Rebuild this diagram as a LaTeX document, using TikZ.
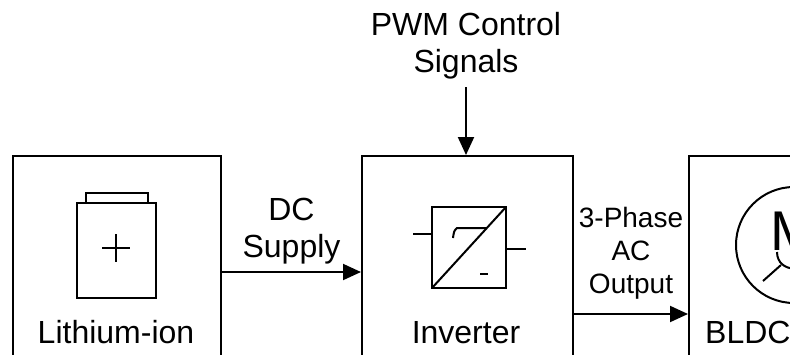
\documentclass[tikz,border=0pt]{standalone}
\usepackage{fontspec}
\setmainfont{Liberation Sans}
\usetikzlibrary{arrows.meta}

\tikzset{
  block/.style={draw, line width=2pt, anchor=north west, inner sep=0pt, minimum height=280pt},
  lbl/.style={font=\fontsize{32}{37}\selectfont, align=center, inner sep=0pt},
  small lbl/.style={font=\fontsize{28}{33}\selectfont, align=center, inner sep=0pt},
  flow/.style={line width=2pt, -{Triangle[length=18pt,width=16pt]}},
  icon/.style={line width=2pt},
}

\begin{document}
\begin{tikzpicture}[x=1pt,y=-1pt]
  \clip (0,0) rectangle (790,354);
  % blocks
  \node[block, minimum width=208pt] (bat) at (12,155) {};
  \node[block, minimum width=211pt] (inv) at (361,155) {};
  \node[block, minimum width=200pt] (mot) at (688,155) {};
  \node[lbl, anchor=base] (batlbl) at (116,343) {Lithium-ion};
  \node[lbl, anchor=base] (invlbl) at (466,343) {Inverter};
  \node[lbl, anchor=base west] (motlbl) at (705,343) {BLDC};

  % battery
  \draw[icon] (77,203) rectangle (156,298);
  \draw[icon] (86,203) -- (86,193) -- (148,193) -- (148,203);
  \draw[icon] (102,248) -- (130,248) (116,234) -- (116,262);

  % converter
  \draw[icon] (432,207) rectangle (506,288);
  \draw[icon] (432,288) -- (506,207);
  \draw[icon] (413,234) -- (432,234) (506,249) -- (526,249);
  \draw[icon] (453,238) .. controls (454,231) .. (457,228) -- (487,228);
  \draw[line width=2.5pt] (480,274) -- (488,274);

  % motor
  \draw[icon] (794,245) circle[radius=58pt];
  \node[font=\fontsize{56}{56}\selectfont, anchor=base, inner sep=0pt] (mletter) at (794,250) {M};
  \draw[icon] (777,252) .. controls (777,274) and (811,274) .. (811,252);
  \draw[icon] (781,265) -- (763,281) (807,265) -- (825,281);

  % signals
  \node[lbl, anchor=north] (pwm) at (466,12) {PWM Control\\Signals};
  \draw[flow, shorten <=8pt] (pwm.south) -- (pwm.south |- inv.north);

  \coordinate (dcy) at (0,272);
  \coordinate (acy) at (0,314);
  \draw[flow] (bat.east |- dcy) -- node[lbl, above=7pt] {DC\\Supply} (inv.west |- dcy);
  \draw[flow] (inv.east |- acy) -- node[small lbl, above=14pt] {3-Phase\\AC\\Output} (mot.west |- acy);
\end{tikzpicture}
\end{document}
